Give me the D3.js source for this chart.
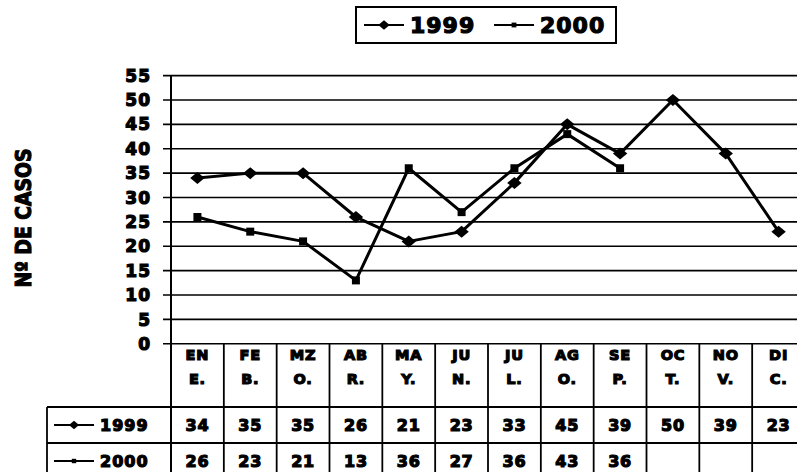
<!DOCTYPE html>
<html><head><meta charset="utf-8">
<script src="https://cdn.jsdelivr.net/npm/d3@7"></script>
<style>
body{margin:0;background:#fff;}
text{font-family:"DejaVu Sans",Verdana,sans-serif;font-weight:bold;fill:#000;}
</style></head>
<body>
<script>
const monthsTop = ["EN","FE","MZ","AB","MA","JU","JU","AG","SE","OC","NO","DI"];
const monthsBottom = ["E.","B.","O.","R.","Y.","N.","L.","O.","P.","T.","V.","C."];
const seriesNames = ["1999","2000"];
const values1999 = [34,35,35,26,21,23,33,45,39,50,39,23];
const values2000 = [26,23,21,13,36,27,36,43,36];
const yTicks = [0,5,10,15,20,25,30,35,40,45,50,55];

const W=797,H=472;
const svg=d3.select("body").append("svg").attr("width",W).attr("height",H);
const idx=d3.range(monthsTop.length);
const x=d3.scaleBand().domain(idx).range([171,805]);
const y=d3.scaleLinear().domain([0,55]).range([343.8,75.6]);
const cx=i=>x(i)+x.bandwidth()/2;

// gridlines
svg.append("g").selectAll("line").data(yTicks).join("line")
  .attr("x1",163).attr("x2",W).attr("y1",d=>y(d)).attr("y2",d=>y(d))
  .attr("stroke","#000").attr("stroke-width",1.6);
// y tick labels
svg.append("g").selectAll("text").data(yTicks).join("text")
  .attr("x",151).attr("y",d=>y(d)).attr("dy","0.36em").attr("text-anchor","end")
  .attr("font-size",17).attr("stroke","#000").attr("stroke-width",1.2)
  .attr("letter-spacing",1).text(d=>d);
// y axis line
svg.append("line").attr("x1",171).attr("x2",171).attr("y1",y(55)).attr("y2",H)
  .attr("stroke","#000").attr("stroke-width",2);
// y title
svg.append("text").attr("transform","translate(31,218) rotate(-90)")
  .attr("text-anchor","middle").attr("font-size",21)
  .style("font-family","'DejaVu Sans Condensed','DejaVu Sans',sans-serif")
  .attr("stroke","#000").attr("stroke-width",1.1)
  .attr("textLength",139).attr("lengthAdjust","spacingAndGlyphs")
  .text("Nº DE CASOS");

// table
const rowTop=407, rowMid=443, rowBot=480;
const tg=svg.append("g").attr("stroke","#000").attr("stroke-width",1.8);
idx.concat([12]).forEach(i=>{
  const xx = i<12 ? x(i) : x(11)+x.bandwidth();
  tg.append("line").attr("x1",xx).attr("x2",xx).attr("y1",y(0)).attr("y2",rowBot);
});
tg.append("line").attr("x1",47).attr("x2",W).attr("y1",rowTop).attr("y2",rowTop);
tg.append("line").attr("x1",47).attr("x2",W).attr("y1",rowMid).attr("y2",rowMid);
tg.append("line").attr("x1",47).attr("x2",47).attr("y1",rowTop).attr("y2",rowBot);

function cellText(arr,yy,fs){
  svg.append("g").selectAll("text").data(arr).join("text")
    .attr("x",(d,i)=>cx(i)).attr("y",yy).attr("dy","0.36em").attr("text-anchor","middle")
    .attr("font-size",fs).attr("stroke","#000").attr("stroke-width",1.2).attr("letter-spacing",0.8)
    .text(d=>d);
}
cellText(monthsTop,355,14.5);
cellText(monthsBottom,379,14.5);
cellText(values1999,425,16);
cellText(values2000,461,16);

const diamondPath=d3.symbol().type(d3.symbolSquare).size(72)();
const squarePath=d3.symbol().type(d3.symbolSquare).size(64)();
function marker(sel,k,scale){
  return sel.attr("d",k===0?diamondPath:squarePath)
    .attr("fill","#000");
}
function legendItem(g,x0,yy,k,len,fs,sc){
  g.append("line").attr("x1",x0).attr("x2",x0+len).attr("y1",yy).attr("y2",yy)
    .attr("stroke","#000").attr("stroke-width",2);
  marker(g.append("path"),k)
    .attr("transform",`translate(${x0+len/2},${yy}) scale(${sc})`+(k===0?" scale(1.2,1) rotate(45)":""));
  g.append("text").attr("x",x0+len+6).attr("y",yy).attr("dy","0.36em")
    .attr("font-size",fs).attr("stroke","#000").attr("stroke-width",1.2).attr("letter-spacing",1)
    .text(seriesNames[k]);
}
// row headers
legendItem(svg,54,425,0,40,16,0.7);
legendItem(svg,54,461,1,40,16,0.55);

// lines
const line=d3.line().x((d,i)=>cx(i)).y(d=>y(d));
[values1999,values2000].forEach((vals,k)=>{
  svg.append("path").datum(vals).attr("d",line).attr("fill","none")
    .attr("stroke","#000").attr("stroke-width",3).attr("stroke-linejoin","round");
  marker(svg.append("g").selectAll("path").data(vals).join("path"),k)
    .attr("transform",(d,i)=>`translate(${cx(i)},${y(d)})`+(k===0?" scale(1.2,1) rotate(45)":""));
});

// legend
const lg=svg.append("g");
lg.append("rect").attr("x",356).attr("y",7).attr("width",260).attr("height",36)
  .attr("fill","#fff").attr("stroke","#000").attr("stroke-width",2);
legendItem(lg,364,25,0,40,22,0.8);
legendItem(lg,494,25,1,40,22,0.6);
</script>
</body></html>
